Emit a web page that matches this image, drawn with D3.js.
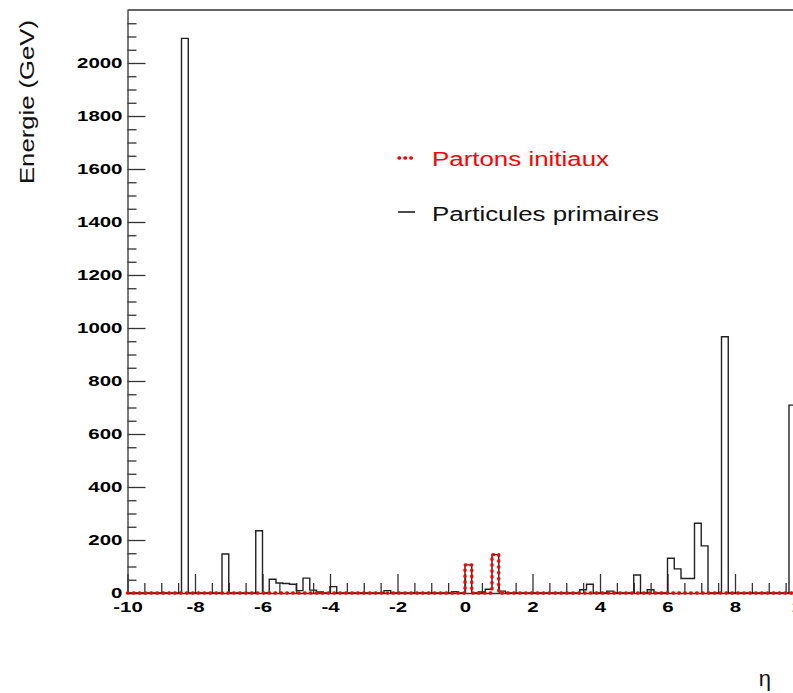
<!DOCTYPE html>
<html>
<head>
<meta charset="utf-8">
<script src="https://cdn.jsdelivr.net/npm/d3@7/dist/d3.min.js"></script>
<style>
body { margin: 0; background: #fff; }
svg text { font-family: "Liberation Sans", Arial, sans-serif; }
</style>
</head>
<body>
<svg id="chart" width="793" height="693"></svg>
<script>
// histogram: 100 bins of eta from -10 to 10, only non empty bins listed
var etaMin = -10, etaMax = 10, nBins = 100;

// particules primaires (black histogram)
var particuleBins   = [-8.4, -7.2, -6.2, -5.8, -5.6, -5.4, -5.2, -5.0, -4.8, -4.6, -4.4, -4.0, -2.4, -0.4, 0.0, 0.4, 0.6, 0.8, 1.0, 3.4, 3.6, 4.2, 5.0, 5.4, 6.0, 6.2, 6.4, 6.6, 6.8, 7.0, 7.6, 9.6];
var particuleEnergy = [2093, 147, 235, 52, 38, 36, 33, 9, 56, 11, 4, 24, 9, 5, 106, 4, 14, 145, 7, 12, 33, 7, 68, 12, 131, 91, 55, 55, 263, 178, 967, 709];

// partons initiaux (red dotted histogram)
var partonBins   = [0.0, 0.8];
var partonEnergy = [106, 145];

var yMax = 2200;
var xTicks = [-10, -8, -6, -4, -2, 0, 2, 4, 6, 8, 10];
var yTicks = [0, 200, 400, 600, 800, 1000, 1200, 1400, 1600, 1800, 2000];
var legendLabels = ["Partons initiaux", "Particules primaires"];

var svg = d3.select("#chart");

var x = d3.scaleLinear().domain([etaMin, etaMax]).range([127.5, 802.5]);
var y = d3.scaleLinear().domain([0, yMax]).range([593, 10]);

var textStretch = 1.32;

// build step points for a histogram
function histPoints(bins, energy) {
  var w = (etaMax - etaMin) / nBins;
  var h = d3.range(nBins).map(function(i) { return {lo: etaMin + i * w, e: 0}; });
  bins.forEach(function(b, j) {
    var i = Math.round((b - etaMin) / w);
    h[i].e = energy[j];
  });
  var pts = [[etaMin, 0]];
  h.forEach(function(d) { pts.push([d.lo, d.e]); });
  pts.push([etaMax, h[nBins - 1].e]);
  pts.push([etaMax, 0]);
  return pts;
}

var line = d3.line()
    .x(function(d) { return x(d[0]); })
    .y(function(d) { return y(d[1]); })
    .curve(d3.curveStepAfter);

// frame top line
svg.append("line")
    .attr("x1", x(etaMin)).attr("x2", x(etaMax))
    .attr("y1", y(yMax)).attr("y2", y(yMax))
    .attr("stroke", "#333").attr("stroke-width", 1.3);

// minor ticks
var xMinor = d3.range(-10, 10.01, 0.5).filter(function(d) { return Math.abs(d % 2) > 0.01; });
var yMinor = d3.range(0, yMax + 1, 50).filter(function(d) { return d % 200 != 0; });

svg.append("g")
    .attr("transform", "translate(0," + y(0) + ")")
    .call(d3.axisBottom(x).tickValues(xMinor).tickSizeInner(-10).tickSizeOuter(0).tickFormat(""))
    .call(function(g) { g.select(".domain").remove(); })
    .selectAll("line").attr("stroke", "#333").attr("stroke-width", 1.3);

svg.append("g")
    .attr("transform", "translate(" + x(etaMin) + ",0)")
    .call(d3.axisLeft(y).tickValues(yMinor).tickSizeInner(-9).tickSizeOuter(0).tickFormat(""))
    .call(function(g) { g.select(".domain").remove(); })
    .selectAll("line").attr("stroke", "#333").attr("stroke-width", 1.3);

// major axes
var xAxis = svg.append("g")
    .attr("transform", "translate(0," + y(0) + ")")
    .call(d3.axisBottom(x).tickValues(xTicks).tickSizeInner(-19).tickSizeOuter(0).tickPadding(8)
          .tickFormat(function(d) { return String(d); }));

var yAxis = svg.append("g")
    .attr("transform", "translate(" + x(etaMin) + ",0)")
    .call(d3.axisLeft(y).tickValues(yTicks).tickSizeInner(-18).tickSizeOuter(0).tickPadding(5)
          .tickFormat(function(d) { return String(d); }));

[xAxis, yAxis].forEach(function(g) {
  g.select(".domain").attr("stroke", "#333").attr("stroke-width", 1.3);
  g.selectAll(".tick line").attr("stroke", "#333").attr("stroke-width", 1.3);
  g.selectAll(".tick text")
      .attr("fill", "#000")
      .style("font-family", "'Liberation Sans', Arial, sans-serif")
      .style("font-size", "15.5px")
      .style("font-weight", "bold");
});
xAxis.selectAll(".tick text").attr("transform", "scale(" + textStretch + ",1)");
yAxis.selectAll(".tick text").attr("x", 0)
    .attr("transform", "translate(-5,0) scale(" + textStretch + ",1)");

// histograms
svg.append("path")
    .datum(histPoints(particuleBins, particuleEnergy))
    .attr("d", line)
    .attr("fill", "none")
    .attr("stroke", "#222")
    .attr("stroke-width", 1.4);

svg.append("path")
    .datum(histPoints(partonBins, partonEnergy))
    .attr("d", line)
    .attr("fill", "none")
    .attr("stroke", "#ff0000")
    .attr("stroke-width", 3.4)
    .attr("stroke-linecap", "round")
    .attr("stroke-dasharray", "0.6,5.3");

// legend
var legend = svg.append("g");
legend.append("line")
    .attr("x1", 399).attr("x2", 413).attr("y1", 158).attr("y2", 158)
    .attr("stroke", "#ff0000").attr("stroke-width", 3.4)
    .attr("stroke-linecap", "round").attr("stroke-dasharray", "0.6,5.3");
legend.append("text")
    .attr("x", 432).attr("y", 166)
    .attr("fill", "#ff0000")
    .style("font-size", "19.5px")
    .attr("textLength", 177).attr("lengthAdjust", "spacingAndGlyphs")
    .text(legendLabels[0]);
legend.append("line")
    .attr("x1", 398).attr("x2", 415).attr("y1", 212).attr("y2", 212)
    .attr("stroke", "#222").attr("stroke-width", 1.6);
legend.append("text")
    .attr("x", 432).attr("y", 221)
    .attr("fill", "#111")
    .style("font-size", "19.5px")
    .attr("textLength", 227).attr("lengthAdjust", "spacingAndGlyphs")
    .text(legendLabels[1]);

// axis titles
svg.append("text")
    .attr("transform", "translate(34,20) rotate(-90)")
    .attr("text-anchor", "end")
    .attr("fill", "#111")
    .style("font-size", "20px")
    .attr("textLength", 164).attr("lengthAdjust", "spacingAndGlyphs")
    .text("Energie (GeV)");

svg.append("text")
    .attr("x", 771).attr("y", 686)
    .attr("text-anchor", "end")
    .attr("fill", "#111")
    .style("font-size", "22px")
    .text("η");
</script>
</body>
</html>
